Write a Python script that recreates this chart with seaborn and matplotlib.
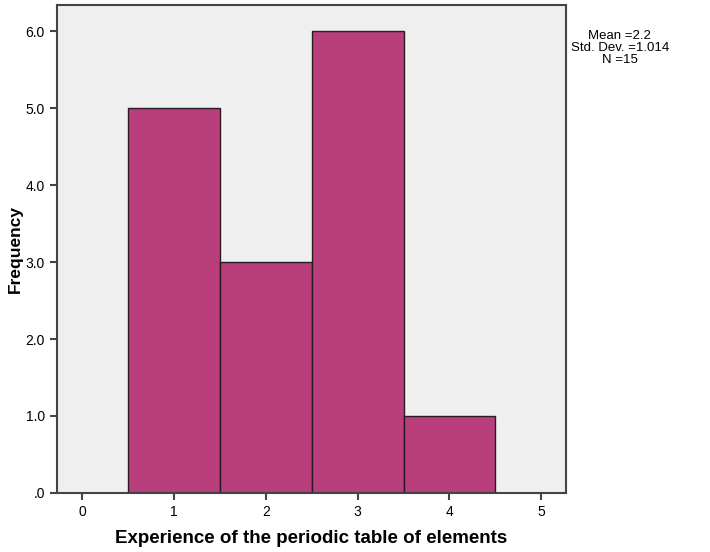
import numpy as np
import pandas as pd
import seaborn as sns
import matplotlib.pyplot as plt

scores = [1, 2, 3, 4]
counts = [5, 3, 6, 1]
x_ticks = [0, 1, 2, 3, 4, 5]
y_ticks = [0, 1, 2, 3, 4, 5, 6]
y_labels = ['.0', '1.0', '2.0', '3.0', '4.0', '5.0', '6.0']
stats_lines = ['Mean =2.2', 'Std. Dev. =1.014', 'N =15']

df = pd.DataFrame({'score': scores, 'count': counts})

sns.set_style('ticks')
plt.rcParams['font.family'] = ['Liberation Sans', 'DejaVu Sans']
plt.rcParams['text.color'] = 'black'
plt.rcParams['axes.labelcolor'] = 'black'
plt.rcParams['xtick.labelcolor'] = 'black'
plt.rcParams['ytick.labelcolor'] = 'black'

fig = plt.figure(figsize=(7.1, 5.52), dpi=100)
ax = fig.add_axes([0.080, 0.107, 0.717, 0.884])
ax.set_facecolor('#efefef')

sns.histplot(data=df, x='score', weights='count', discrete=True, ax=ax,
             color='#b83e7c', alpha=1, edgecolor='#2a1a22', linewidth=1.0)

ax.set_xlim(-0.28, 5.27)
ax.set_ylim(0, 6.34)
ax.set_xticks(x_ticks)
ax.set_yticks(y_ticks)
ax.set_yticklabels(y_labels)
ax.tick_params(axis='both', labelsize=10, length=5, width=1.5, color='#444444')

for s in ax.spines.values():
    s.set_color('#444444')
    s.set_linewidth(1.5)

ax.set_xlabel('Experience of the periodic table of elements', fontsize=13.5, fontweight='bold', labelpad=8)
ax.set_ylabel('Frequency', fontsize=12.5, fontweight='bold', labelpad=2)

fig.text(0.873, 0.946, '\n'.join(stats_lines), ha='center', va='top', fontsize=9.5, linespacing=1.0)

plt.savefig('out.png', dpi=100)
